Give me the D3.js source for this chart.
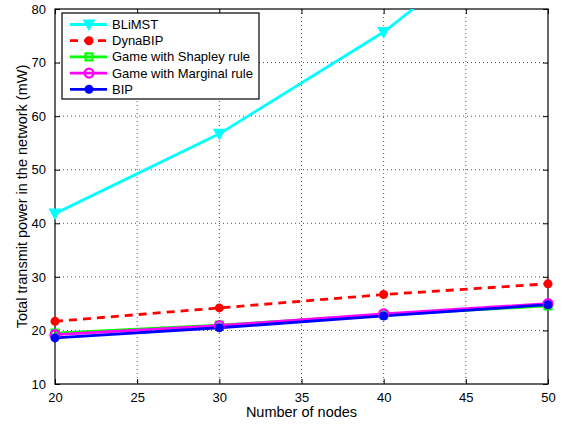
<!DOCTYPE html>
<html>
<head>
<meta charset="utf-8">
<script src="https://cdn.jsdelivr.net/npm/d3@7"></script>
<style>
  body { margin: 0; background: #fff; }
  text { font-family: "Liberation Sans", Arial, sans-serif; fill: #000; }
</style>
</head>
<body>
<div id="chart"></div>
<script>
// data
var nodes = [20, 30, 40, 50];
var bliMST = [41.8, 56.7, 75.7, 99.8];
var dynaBIP = [21.7, 24.2, 26.7, 28.7];
var shapley = [19.5, 21.0, 22.9, 24.6];
var marginal = [19.2, 20.9, 23.1, 25.0];
var bip = [18.6, 20.5, 22.7, 24.8];
var xTicks = [20, 25, 30, 35, 40, 45, 50];
var yTicks = [10, 20, 30, 40, 50, 60, 70, 80];

var series = [
  {name: "BLiMST", values: bliMST, color: "#00ffff", marker: "tri", dash: null},
  {name: "DynaBIP", values: dynaBIP, color: "#ff0000", marker: "dot", dash: "8,6"},
  {name: "Game with Shapley rule", values: shapley, color: "#00ff00", marker: "square", dash: null},
  {name: "Game with Marginal rule", values: marginal, color: "#ff00ff", marker: "ring", dash: null},
  {name: "BIP", values: bip, color: "#0000ff", marker: "dot", dash: null}
];

var W = 562, H = 424;
var margin = {top: 9, right: 14, bottom: 40, left: 55};
var width = W - margin.left - margin.right,
    height = H - margin.top - margin.bottom;

var svg = d3.select("#chart").append("svg")
    .attr("width", W).attr("height", H);
var g = svg.append("g")
    .attr("transform", "translate(" + margin.left + "," + margin.top + ")");

var x = d3.scaleLinear().domain([20, 50]).range([0, width]);
var y = d3.scaleLinear().domain([10, 80]).range([height, 0]);

// grid
g.selectAll(".gx").data(xTicks.slice(1, -1)).enter().append("line")
    .attr("x1", function(d) { return x(d); }).attr("x2", function(d) { return x(d); })
    .attr("y1", 0).attr("y2", height)
    .attr("stroke", "#555").attr("stroke-width", 1).attr("stroke-dasharray", "1,3");
g.selectAll(".gy").data(yTicks.slice(1, -1)).enter().append("line")
    .attr("y1", function(d) { return y(d); }).attr("y2", function(d) { return y(d); })
    .attr("x1", 0).attr("x2", width)
    .attr("stroke", "#555").attr("stroke-width", 1).attr("stroke-dasharray", "1,3");

// axes, ticks inside on all four sides
g.append("g").attr("transform", "translate(0," + height + ")")
    .call(d3.axisBottom(x).tickValues(xTicks).tickSizeInner(-5).tickSizeOuter(0).tickPadding(9))
    .call(function(a) { a.select(".domain").remove(); a.selectAll("text").attr("font-size", 13); });
g.append("g")
    .call(d3.axisLeft(y).tickValues(yTicks).tickSizeInner(-5).tickSizeOuter(0).tickPadding(9))
    .call(function(a) { a.select(".domain").remove(); a.selectAll("text").attr("font-size", 13); });
g.append("g")
    .call(d3.axisTop(x).tickValues(xTicks).tickSizeInner(-5).tickSizeOuter(0).tickFormat(""))
    .call(function(a) { a.select(".domain").remove(); });
g.append("g").attr("transform", "translate(" + width + ",0)")
    .call(d3.axisRight(y).tickValues(yTicks).tickSizeInner(-5).tickSizeOuter(0).tickFormat(""))
    .call(function(a) { a.select(".domain").remove(); });

g.append("rect").attr("width", width).attr("height", height)
    .attr("fill", "none").attr("stroke", "#000").attr("stroke-width", 1.2);

// labels
svg.append("text").attr("x", margin.left + width / 2).attr("y", 417)
    .attr("text-anchor", "middle").attr("font-size", 14.5).text("Number of nodes");
svg.append("text")
    .attr("transform", "translate(27," + (margin.top + height / 2) + ") rotate(-90)")
    .attr("text-anchor", "middle").attr("font-size", 14.5)
    .text("Total transmit power in the network (mW)");

svg.append("defs").append("clipPath").attr("id", "clip")
  .append("rect").attr("width", width).attr("height", height);

var line = d3.line()
    .x(function(d, i) { return x(nodes[i]); })
    .y(function(d) { return y(d); });

function drawMarker(sel, type, color) {
  if (type == "tri") {
    sel.append("path").attr("d", "M-5.5,-4.5L5.5,-4.5L0,5.5Z")
      .attr("fill", color).attr("stroke", color).attr("stroke-width", 1.2);
  } else if (type == "square") {
    sel.append("rect").attr("x", -3.5).attr("y", -3.5).attr("width", 7).attr("height", 7)
      .attr("fill", "none").attr("stroke", color).attr("stroke-width", 2.2);
  } else if (type == "ring") {
    sel.append("circle").attr("r", 4.5)
      .attr("fill", "none").attr("stroke", color).attr("stroke-width", 2.2);
  } else {
    sel.append("circle").attr("r", 4.5).attr("fill", color);
  }
}

var plot = g.append("g").attr("clip-path", "url(#clip)");
var marks = g.append("g");
series.forEach(function(s) {
  plot.append("path").datum(s.values)
    .attr("d", line).attr("fill", "none")
    .attr("stroke", s.color).attr("stroke-width", 2.8)
    .attr("stroke-dasharray", s.dash);
  s.values.forEach(function(v, i) {
    if (v > 80) return;
    var m = marks.append("g").attr("transform", "translate(" + x(nodes[i]) + "," + y(v) + ")");
    drawMarker(m, s.marker, s.color);
  });
});

// legend
var lg = svg.append("g").attr("transform", "translate(62,13)");
lg.append("rect").attr("width", 197).attr("height", 86)
  .attr("fill", "#fff").attr("stroke", "#000").attr("stroke-width", 1.2);
series.forEach(function(s, i) {
  var yy = 11.5 + i * 16.2;
  lg.append("line").attr("x1", 8).attr("x2", 45).attr("y1", yy).attr("y2", yy)
    .attr("stroke", s.color).attr("stroke-width", 2.8).attr("stroke-dasharray", s.dash);
  var m = lg.append("g").attr("transform", "translate(27," + yy + ")");
  drawMarker(m, s.marker, s.color);
  lg.append("text").attr("x", 50).attr("y", yy).attr("dy", "0.35em")
    .attr("font-size", 13).text(s.name);
});
</script>
</body>
</html>
